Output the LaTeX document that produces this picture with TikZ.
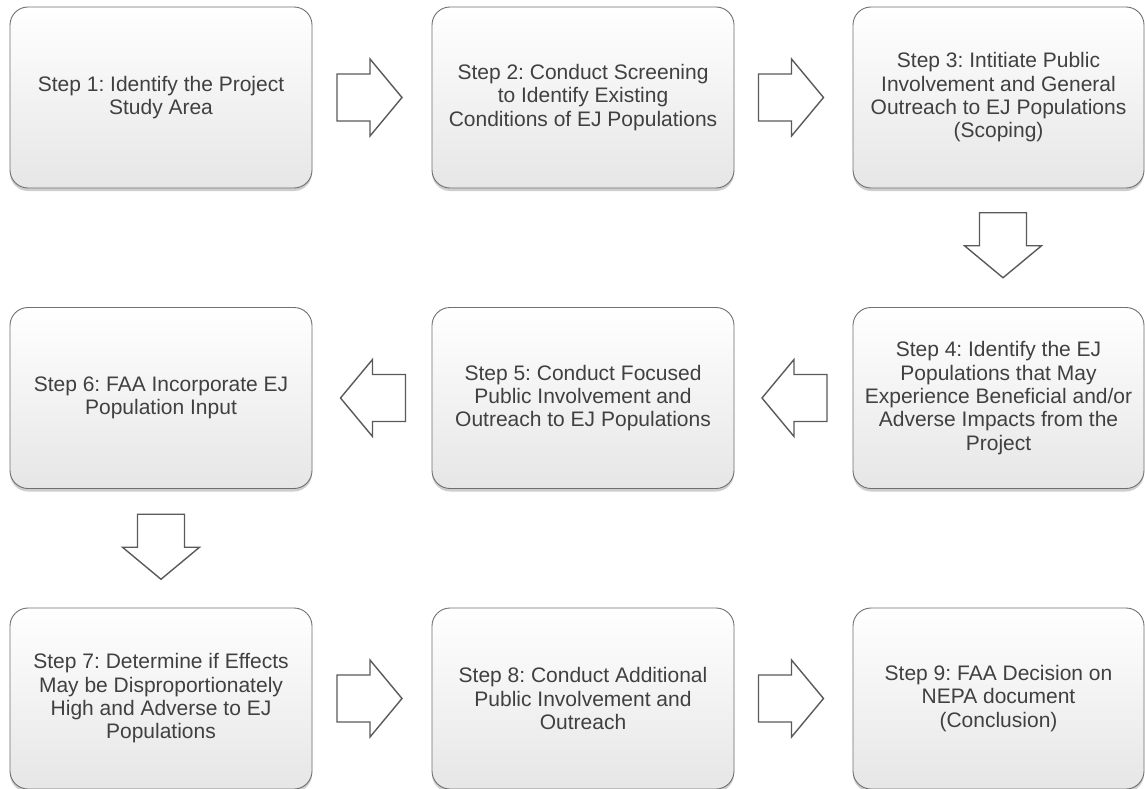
\documentclass[tikz,border=0pt]{standalone}
\usepackage{fontspec}
\setmainfont{Liberation Sans}
\frenchspacing
\usetikzlibrary{shadows,calc}
\definecolor{txt}{HTML}{404040}
\definecolor{boxline}{HTML}{707070}
\definecolor{boxbot}{HTML}{E6E6E6}
\definecolor{arrline}{HTML}{5A5A5A}
\tikzset{
  stepbox/.style={draw=boxline, line width=0.9pt, rounded corners=18pt,
    top color=white, bottom color=boxbot, minimum height=181pt,
    text=txt, align=center, inner sep=4pt,
    font=\fontsize{21}{23.3}\selectfont,
    drop shadow={shadow xshift=0pt, shadow yshift=-3pt, opacity=0.35, fill=black!55}},
  arrowline/.style={draw=arrline, fill=white, line width=1.4pt, line join=miter},
  rightarrow/.pic={\path[arrowline] (-32.5,-23.5) -- (0.5,-23.5) -- (0.5,-38.5) -- (32.5,0) -- (0.5,38.5) -- (0.5,23.5) -- (-32.5,23.5) -- cycle;},
  leftarrow/.pic={\path[arrowline] (32.5,-23.5) -- (-0.5,-23.5) -- (-0.5,-38.5) -- (-32.5,0) -- (-0.5,38.5) -- (-0.5,23.5) -- (32.5,23.5) -- cycle;},
  downarrow/.pic={\path[arrowline] (-23.5,-32.5) -- (23.5,-32.5) -- (23.5,0.5) -- (38.5,0.5) -- (0,32.5) -- (-38.5,0.5) -- (-23.5,0.5) -- cycle;}
}
\begin{document}
\begin{tikzpicture}[x=1pt,y=-1pt]
\useasboundingbox[fill=white] (0,0) rectangle (1145,789);
% row 1
\node[stepbox, minimum width=302pt] (b1) at (161,97.5) {Step 1: Identify the Project\\Study Area};
\node[stepbox, minimum width=302pt] (b2) at (583,97.5) {Step 2: Conduct Screening\\to Identify Existing\\Conditions of EJ Populations};
\node[stepbox, minimum width=291pt] (b3) at (998.5,97.5) {Step 3: Intitiate Public\\Involvement and General\\Outreach to EJ Populations\\(Scoping)};
% row 2
\node[stepbox, minimum width=291pt] (b4) at (998.5,398) {Step 4: Identify the EJ\\Populations that May\\Experience Beneficial and/or\\Adverse Impacts from the\\Project};
\node[stepbox, minimum width=302pt] (b5) at (583,398) {Step 5: Conduct Focused\\Public Involvement and\\Outreach to EJ Populations};
\node[stepbox, minimum width=302pt] (b6) at (161,398) {Step 6: FAA Incorporate EJ\\Population Input};
% row 3
\node[stepbox, minimum width=302pt] (b7) at (161,698.5) {Step 7: Determine if Effects\\May be Disproportionately\\High and Adverse to EJ\\Populations};
\node[stepbox, minimum width=302pt] (b8) at (583,698.5) {Step 8: Conduct Additional\\Public Involvement and\\Outreach};
\node[stepbox, minimum width=291pt] (b9) at (998.5,698.5) {Step 9: FAA Decision on\\NEPA document\\(Conclusion)};
% arrow anchors
\coordinate (a12) at ($(b1.east)!0.5!(b2.west)+(-2.5,0)$);
\coordinate (a23) at ($(b2.east)!0.5!(b3.west)+(-2.5,0)$);
\coordinate (a34) at ($(b3.south)!0.5!(b4.north)+(4.5,-2.5)$);
\coordinate (a45) at ($(b4.west)!0.5!(b5.east)+(1,0)$);
\coordinate (a56) at ($(b5.west)!0.5!(b6.east)+(1,0)$);
\coordinate (a67) at ($(b6.south)!0.5!(b7.north)+(0,-1.5)$);
\coordinate (a78) at ($(b7.east)!0.5!(b8.west)+(-2.5,0)$);
\coordinate (a89) at ($(b8.east)!0.5!(b9.west)+(-2.5,0)$);
% arrows
\pic at (a12) {rightarrow};
\pic at (a23) {rightarrow};
\pic at (a34) {downarrow};
\pic at (a45) {leftarrow};
\pic at (a56) {leftarrow};
\pic at (a67) {downarrow};
\pic at (a78) {rightarrow};
\pic at (a89) {rightarrow};
\end{tikzpicture}
\end{document}
